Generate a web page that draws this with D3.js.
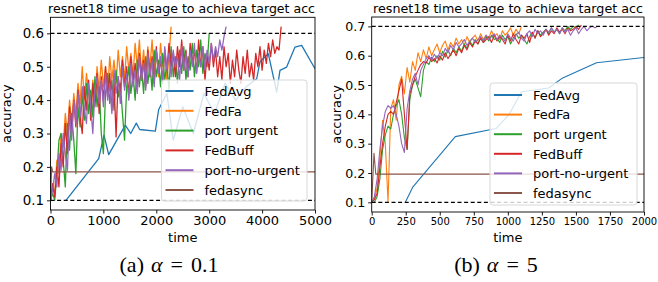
<!DOCTYPE html>
<html>
<head>
<meta charset="utf-8">
<script src="https://cdn.jsdelivr.net/npm/d3@7"></script>
<style>
  body { margin: 0; background: #fff; }
  text { font-family: "DejaVu Sans", sans-serif; }
</style>
</head>
<body>
<div id="chart"></div>
<script>
const seriesNames = ["FedAvg", "FedFa", "port urgent", "FedBuff", "port-no-urgent", "fedasync"];
const seriesColors = ["#1f77b4", "#ff7f0e", "#2ca02c", "#d62728", "#9467bd", "#8c564b"];
const titleText = "resnet18 time usage to achieva target acc";

// ---------- panel (a): alpha = 0.1 ----------
const aStep = 40; // time between logged rounds for the async methods
const aFedAvgTime = [293, 911, 1011, 1100, 1414, 1516, 1622, 1686, 1982, 2045, 2200, 2320, 2500, 2700, 2900, 3100, 3300, 3500, 3700, 3898, 3960, 4117, 4276, 4338, 4464, 4622, 4748, 5000];
const aFedAvgAcc = [0.10, 0.225, 0.295, 0.237, 0.325, 0.30, 0.331, 0.312, 0.307, 0.372, 0.42, 0.28, 0.38, 0.30, 0.42, 0.36, 0.45, 0.40, 0.44, 0.464, 0.515, 0.539, 0.424, 0.489, 0.499, 0.559, 0.564, 0.494];
const aFedFaAcc = [0.10, 0.14, 0.12, 0.22, 0.18, 0.30, 0.26, 0.36, 0.30, 0.40, 0.33, 0.42, 0.36, 0.45, 0.39, 0.50, 0.40, 0.48, 0.42, 0.36,
  0.46, 0.40, 0.50, 0.43, 0.52, 0.44, 0.50, 0.42, 0.53, 0.46, 0.52, 0.45, 0.55, 0.47, 0.53, 0.46, 0.56, 0.49, 0.54, 0.47,
  0.57, 0.50, 0.58, 0.48, 0.55, 0.47, 0.56, 0.50, 0.58, 0.48, 0.55, 0.47, 0.57, 0.50, 0.54, 0.46, 0.53, 0.62];
const aUrgentAcc = [0.10, 0.12, 0.10, 0.18, 0.28, 0.30, 0.22, 0.14, 0.33, 0.25, 0.36, 0.28, 0.18, 0.38, 0.32, 0.42, 0.34, 0.45, 0.36, 0.43,
  0.35, 0.47, 0.38, 0.44, 0.30, 0.24, 0.42, 0.48, 0.39, 0.46, 0.37, 0.49, 0.41, 0.45, 0.36, 0.28, 0.44, 0.50, 0.42, 0.48,
  0.40, 0.52, 0.44, 0.50, 0.42, 0.53, 0.45, 0.51, 0.43, 0.55, 0.47, 0.52, 0.44, 0.54, 0.46, 0.51, 0.43, 0.56, 0.47, 0.53,
  0.45, 0.55, 0.48, 0.56, 0.46, 0.53, 0.49, 0.57, 0.47, 0.55, 0.50, 0.58, 0.48, 0.54, 0.50, 0.60];
const aFedBuffAcc = [0.10, 0.15, 0.11, 0.20, 0.14, 0.27, 0.20, 0.33, 0.24, 0.38, 0.30, 0.40, 0.32, 0.43, 0.35, 0.30, 0.44, 0.37, 0.46, 0.34,
  0.45, 0.38, 0.48, 0.36, 0.47, 0.40, 0.50, 0.41, 0.48, 0.37, 0.46, 0.29, 0.47, 0.42, 0.52, 0.44, 0.50, 0.41, 0.53, 0.45,
  0.51, 0.43, 0.54, 0.46, 0.52, 0.44, 0.55, 0.47, 0.53, 0.45, 0.56, 0.48, 0.52, 0.46, 0.55, 0.49, 0.57, 0.50, 0.54, 0.47,
  0.56, 0.50, 0.58, 0.49, 0.55, 0.47, 0.57, 0.51, 0.55, 0.48, 0.58, 0.50, 0.56, 0.46, 0.54, 0.49, 0.57, 0.50, 0.55, 0.47,
  0.53, 0.46, 0.56, 0.50, 0.54, 0.45, 0.52, 0.47, 0.55, 0.49, 0.45, 0.53, 0.48, 0.55, 0.47, 0.51, 0.46, 0.54, 0.50, 0.56,
  0.49, 0.55, 0.51, 0.57, 0.53, 0.58, 0.54, 0.56, 0.55, 0.62];
const aNoUrgentAcc = [0.10, 0.13, 0.18, 0.14, 0.24, 0.19, 0.30, 0.24, 0.19, 0.36, 0.28, 0.40, 0.33, 0.42, 0.35, 0.44, 0.37, 0.33, 0.45, 0.38,
  0.30, 0.43, 0.47, 0.39, 0.46, 0.38, 0.48, 0.40, 0.45, 0.36, 0.49, 0.42, 0.47, 0.39, 0.50, 0.43, 0.48, 0.40, 0.51, 0.44,
  0.49, 0.42, 0.53, 0.46, 0.51, 0.43, 0.54, 0.47, 0.52, 0.44, 0.55, 0.48, 0.53, 0.45, 0.56, 0.49, 0.54, 0.47, 0.55, 0.50,
  0.53, 0.46, 0.56, 0.49, 0.54, 0.47, 0.55, 0.50, 0.57, 0.48, 0.54, 0.50, 0.56, 0.49, 0.55, 0.51, 0.57, 0.52, 0.56, 0.53,
  0.58, 0.55, 0.59, 0.62];
const aFedAsyncTime = [0, 20, 40, 5000];
const aFedAsyncAcc = [0.10, 0.20, 0.185, 0.185];
const aTargets = [0.6, 0.1];
const aXTicks = [0, 1000, 2000, 3000, 4000, 5000];
const aYTicks = [0.1, 0.2, 0.3, 0.4, 0.5, 0.6];

// ---------- panel (b): alpha = 5 ----------
const bStep = 20;
const bFedAvgTime = [247, 303, 614, 915, 1010, 1101, 1300, 1395, 1651, 2000];
const bFedAvgAcc = [0.10, 0.153, 0.324, 0.352, 0.40, 0.477, 0.49, 0.522, 0.576, 0.594];
const bFedFaAcc = [0.10, 0.11, 0.15, 0.25, 0.38, 0.30, 0.10, 0.42, 0.45, 0.38, 0.50, 0.53, 0.47, 0.56, 0.51, 0.58, 0.55, 0.61, 0.58, 0.62,
  0.59, 0.63, 0.60, 0.62, 0.64, 0.61, 0.635, 0.65, 0.62, 0.645, 0.63, 0.66, 0.64, 0.655, 0.635, 0.665, 0.645, 0.66, 0.67, 0.65,
  0.675, 0.655, 0.67, 0.66, 0.685, 0.665, 0.675, 0.655, 0.685, 0.67, 0.68, 0.695, 0.67, 0.69, 0.675, 0.70];
const bUrgentAcc = [0.10, 0.10, 0.12, 0.18, 0.28, 0.33, 0.36, 0.35, 0.40, 0.43, 0.45, 0.40, 0.32, 0.28, 0.45, 0.50, 0.52, 0.49, 0.46, 0.55,
  0.58, 0.57, 0.595, 0.58, 0.60, 0.585, 0.615, 0.595, 0.62, 0.60, 0.625, 0.61, 0.63, 0.615, 0.64, 0.625, 0.65, 0.635, 0.655, 0.64,
  0.66, 0.645, 0.665, 0.65, 0.67, 0.655, 0.66, 0.645, 0.67, 0.655, 0.665, 0.64, 0.66, 0.675, 0.66, 0.67, 0.655, 0.64, 0.665, 0.68,
  0.66, 0.685, 0.67, 0.68, 0.69, 0.675, 0.695, 0.68, 0.69, 0.675, 0.695, 0.685, 0.70, 0.69, 0.70, 0.695, 0.705];
const bFedBuffAcc = [0.10, 0.11, 0.13, 0.22, 0.30, 0.36, 0.40, 0.41, 0.40, 0.44, 0.48, 0.52, 0.40, 0.28, 0.47, 0.50, 0.53, 0.55, 0.57, 0.58,
  0.575, 0.595, 0.58, 0.59, 0.575, 0.60, 0.585, 0.61, 0.59, 0.605, 0.62, 0.60, 0.625, 0.61, 0.635, 0.62, 0.645, 0.63, 0.65, 0.64,
  0.66, 0.645, 0.655, 0.665, 0.645, 0.67, 0.65, 0.665, 0.655, 0.64, 0.67, 0.65, 0.675, 0.655, 0.64, 0.67, 0.66, 0.675, 0.645, 0.68,
  0.66, 0.685, 0.665, 0.675, 0.69, 0.67, 0.685, 0.675, 0.695, 0.68, 0.69, 0.675, 0.695, 0.685, 0.69, 0.70, 0.69, 0.705];
const bNoUrgentAcc = [0.10, 0.12, 0.18, 0.28, 0.36, 0.41, 0.43, 0.42, 0.43, 0.40, 0.36, 0.30, 0.27, 0.42, 0.48, 0.52, 0.54, 0.50, 0.55, 0.57,
  0.59, 0.60, 0.585, 0.605, 0.59, 0.61, 0.60, 0.625, 0.61, 0.635, 0.62, 0.645, 0.63, 0.64, 0.655, 0.635, 0.65, 0.66, 0.645, 0.655,
  0.665, 0.65, 0.67, 0.655, 0.665, 0.675, 0.655, 0.67, 0.66, 0.65, 0.675, 0.66, 0.65, 0.67, 0.68, 0.66, 0.65, 0.675, 0.685, 0.665,
  0.69, 0.675, 0.685, 0.67, 0.69, 0.68, 0.695, 0.68, 0.69, 0.675, 0.695, 0.68, 0.69, 0.67, 0.685, 0.695, 0.675, 0.69, 0.70, 0.685,
  0.695, 0.70, 0.695, 0.70];
const bFedAsyncTime = [0, 17, 30, 2000];
const bFedAsyncAcc = [0.10, 0.267, 0.196, 0.196];
const bTargets = [0.7, 0.1];
const bXTicks = [0, 250, 500, 750, 1000, 1250, 1500, 1750, 2000];
const bYTicks = [0.1, 0.2, 0.3, 0.4, 0.5, 0.6, 0.7];

////////////////////////////////////////////////////////////////////////////////

function pairs(times, accs) {
  return accs.map((a, i) => [times[i], a]);
}
function stepped(step, accs) {
  return accs.map((a, i) => [i * step, a]);
}

const svg = d3
  .select("#chart")
  .append("svg")
  .attr("width", 658)
  .attr("height", 282)
  .style("display", "block");

function drawPanel(p) {
  const g = svg.append("g");
  const x = d3.scaleLinear().domain(p.xDomain).range([p.left, p.right]);
  const y = d3.scaleLinear().domain(p.yDomain).range([p.bottom, p.top]);

  const clipId = "clip-" + p.id;
  svg
    .append("clipPath")
    .attr("id", clipId)
    .append("rect")
    .attr("x", p.left)
    .attr("y", p.top)
    .attr("width", p.right - p.left)
    .attr("height", p.bottom - p.top);

  const plot = g.append("g").attr("clip-path", "url(#" + clipId + ")");
  const line = d3
    .line()
    .x((d) => x(d[0]))
    .y((d) => y(d[1]));

  p.series.forEach(function (s, i) {
    plot
      .append("path")
      .datum(s)
      .attr("fill", "none")
      .attr("stroke", seriesColors[i])
      .attr("stroke-width", p.lineWidth)
      .attr("stroke-linejoin", "round")
      .attr("d", line);
  });

  p.targets.forEach(function (t) {
    plot
      .append("line")
      .attr("x1", p.left)
      .attr("x2", p.right)
      .attr("y1", y(t))
      .attr("y2", y(t))
      .attr("stroke", "#000")
      .attr("stroke-width", 1.2)
      .attr("stroke-dasharray", "4,2.6");
  });

  // axes
  const xAxis = g
    .append("g")
    .attr("transform", "translate(0," + p.bottom + ")")
    .call(d3.axisBottom(x).tickValues(p.xTicks).tickSize(3.5).tickPadding(2.5).tickFormat(d3.format("d")));
  xAxis.selectAll("text").attr("font-size", p.xTickFont + "px").attr("fill", "#000");
  const yAxis = g
    .append("g")
    .attr("transform", "translate(" + p.left + ",0)")
    .call(d3.axisLeft(y).tickValues(p.yTicks).tickSize(3.5).tickPadding(3).tickFormat(d3.format(".1f")));
  yAxis.selectAll("text").attr("font-size", p.yTickFont + "px").attr("fill", "#000");
  g.selectAll(".domain").remove();
  g.selectAll(".tick line").attr("stroke", "#000").attr("stroke-width", 0.9);

  g.append("rect")
    .attr("x", p.left)
    .attr("y", p.top)
    .attr("width", p.right - p.left)
    .attr("height", p.bottom - p.top)
    .attr("fill", "none")
    .attr("stroke", "#000")
    .attr("stroke-width", 0.9);

  // title, sized to span the same width as in the figure
  const title = g
    .append("text")
    .attr("x", p.titleCenter)
    .attr("y", 13)
    .attr("text-anchor", "middle")
    .attr("font-size", "11px")
    .text(titleText);
  const tw = title.node().getComputedTextLength();
  title.attr("font-size", (11 * p.titleWidth) / tw + "px");

  g.append("text")
    .attr("x", (p.left + p.right) / 2)
    .attr("y", 242)
    .attr("text-anchor", "middle")
    .attr("font-size", "13px")
    .text("time");

  g.append("text")
    .attr("transform", "translate(" + p.yLabelX + "," + (p.top + p.bottom) / 2 + ") rotate(-90)")
    .attr("text-anchor", "middle")
    .attr("font-size", "13px")
    .text("accuracy");

  // legend
  const lg = g.append("g");
  lg.append("rect")
    .attr("x", p.legend.x)
    .attr("y", p.legend.y)
    .attr("width", p.legend.w)
    .attr("height", p.legend.h)
    .attr("rx", 3)
    .attr("fill", "#fff")
    .attr("fill-opacity", 0.8)
    .attr("stroke", "#d8d8d8")
    .attr("stroke-width", 1);
  seriesNames.forEach(function (name, i) {
    const ly = p.legend.y + p.legend.first + i * p.legend.gap;
    lg.append("line")
      .attr("x1", p.legend.x + 4)
      .attr("x2", p.legend.x + 32)
      .attr("y1", ly)
      .attr("y2", ly)
      .attr("stroke", seriesColors[i])
      .attr("stroke-width", 2);
    lg.append("text")
      .attr("x", p.legend.x + 43)
      .attr("y", ly + 4.8)
      .attr("font-size", "13px")
      .text(name);
  });

  // caption
  const cap = svg
    .append("text")
    .attr("x", p.captionX)
    .attr("y", 272)
    .attr("text-anchor", "middle")
    .attr("font-size", "22px")
    .style("font-family", "'Liberation Serif', serif");
  cap.append("tspan").text("(" + p.letter + ")");
  cap.append("tspan").attr("dx", 7).attr("font-style", "italic").text("α");
  cap.append("tspan").attr("dx", 8).text("=");
  cap.append("tspan").attr("dx", 8).text(p.alpha);
}

drawPanel({
  id: "a",
  left: 50.5,
  right: 315,
  top: 17.3,
  bottom: 210,
  xDomain: [0, 5000],
  yDomain: [0.071, 0.648],
  xTicks: aXTicks,
  yTicks: aYTicks,
  xTickFont: 13,
  yTickFont: 13.4,
  titleCenter: 181.5,
  titleWidth: 267,
  yLabelX: 11,
  lineWidth: 1.3,
  targets: aTargets,
  series: [
    pairs(aFedAvgTime, aFedAvgAcc),
    stepped(aStep, aFedFaAcc),
    stepped(aStep, aUrgentAcc),
    stepped(aStep, aFedBuffAcc),
    stepped(aStep, aNoUrgentAcc),
    pairs(aFedAsyncTime, aFedAsyncAcc),
  ],
  legend: { x: 161.5, y: 80, w: 145.5, h: 121, first: 11, gap: 19.8 },
  captionX: 169,
  letter: "a",
  alpha: "0.1",
});

drawPanel({
  id: "b",
  left: 371.7,
  right: 644,
  top: 17,
  bottom: 212,
  xDomain: [0, 2000],
  yDomain: [0.067, 0.732],
  xTicks: bXTicks,
  yTicks: bYTicks,
  xTickFont: 10,
  yTickFont: 12.6,
  titleCenter: 508,
  titleWidth: 270,
  yLabelX: 341,
  lineWidth: 1.1,
  targets: bTargets,
  series: [
    pairs(bFedAvgTime, bFedAvgAcc),
    stepped(bStep, bFedFaAcc),
    stepped(bStep, bUrgentAcc),
    stepped(bStep, bFedBuffAcc),
    stepped(bStep, bNoUrgentAcc),
    pairs(bFedAsyncTime, bFedAsyncAcc),
  ],
  legend: { x: 490, y: 83, w: 147, h: 122, first: 12, gap: 19.6 },
  captionX: 496,
  letter: "b",
  alpha: "5",
});
</script>
</body>
</html>
